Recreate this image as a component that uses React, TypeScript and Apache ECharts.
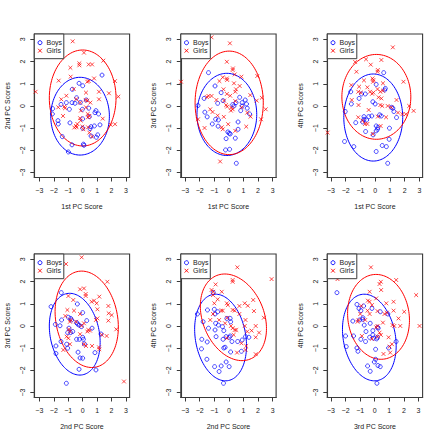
import React, { useEffect, useRef } from 'react';
import * as echarts from 'echarts';

// ---------- data ----------
const boysP1 = [[1.34,1.39],[-0.25,1.02],[0,0.91],[-0.72,0.75],[-0.42,0.37],[0.25,0.27],[-0.74,0.15],[-0.53,0.12],[-0.16,0.16],[-1.13,0.15],[-1.5,0.07],[-2.08,-0.12],[-2.1,-0.36],[-0.92,-0.15],[-0.02,-0.15],[0.42,-0.1],[0.92,-0.21],[0.85,-0.3],[1.1,-0.36],[0,-0.58],[0.46,-0.48],[-1.71,-0.66],[-1.69,-0.81],[-0.88,-0.76],[1.2,-0.85],[0.81,-0.9],[0.58,-0.93],[0.51,-1.02],[0,-1.0],[1.04,-1.3],[-1.41,-1.38],[0.58,-1.35],[0.95,-1.41],[-0.74,-1.75],[0.05,-1.72],[0.09,-1.77],[-0.99,-2.07]];
const girlsP1 = [[-0.69,2.91],[0.09,2.4],[1.43,2.04],[-0.23,1.92],[-0.23,1.83],[0.42,1.87],[0.65,1.87],[-0.85,1.72],[-0.83,1.32],[0.79,1.24],[-1.66,1.14],[0.32,1.09],[0.42,1.12],[2.24,1.12],[-0.62,0.76],[0.23,0.6],[1.13,0.64],[1.82,0.57],[-3.26,0.64],[2.47,0.42],[-1.13,0.46],[-1.48,0.3],[-0.44,0.31],[0.21,0.27],[0.32,0.24],[1.13,0.3],[-0.18,0.15],[0.53,0.15],[-1.69,-0.06],[-1.27,-0.03],[-1.22,-0.1],[0.23,-0.06],[-0.12,-0.21],[0.35,-0.36],[0.46,-0.45],[0.37,-0.51],[-1.36,-0.45],[-0.18,-0.55],[-0.14,-0.66],[1.39,-0.57],[-0.37,-0.81],[-0.46,-0.9],[-0.42,-0.96],[-0.02,-0.93],[0.05,-1.05],[0.37,-0.96],[0.46,-1.2],[1.94,-0.85],[2.24,-0.82],[0.65,-1.38],[-0.58,-0.97]];
const boysP2 = [[-1.4,1.5],[-0.95,0.9],[-0.53,0.6],[-1.7,0.34],[-0.4,0.24],[0.74,0.39],[1.12,0.27],[0.49,0.15],[0.91,0.15],[1.21,0.09],[0.26,0.06],[0.35,0],[-0.77,0.12],[-2.12,0.02],[0.91,0],[1.26,-0.1],[-1.65,-0.28],[1.42,-0.36],[-1.49,-0.49],[-0.91,-0.6],[-0.72,-0.63],[0.63,-0.72],[-1.14,-0.81],[-0.74,-0.91],[-0.07,-1.17],[0.02,-1.23],[0.09,-1.26],[0.63,-1.05],[0.44,-1.45],[-0.19,-1.47],[-0.23,-1.98],[0.05,-1.95],[0.51,-2.58],[0.81,-0.21]];
const girlsP2 = [[-1.19,3.09],[0.07,2.82],[-0.14,1.99],[0.28,1.69],[0.26,1.62],[0.4,1.42],[-0.42,1.29],[-0.14,1.24],[-0.12,1.17],[0.86,1.32],[1.95,1.35],[-0.65,1.12],[-3.28,1.09],[0.35,1.02],[0.74,0.9],[-0.37,0.75],[0.49,0.75],[0.44,0.64],[-0.14,0.54],[1.47,0.49],[0.09,0.46],[-1.4,0.45],[-1.19,0.45],[-1.51,0.4],[2.26,0.37],[-0.86,0.27],[-0.33,0.24],[0.44,0.22],[1.91,0.24],[-0.19,0.04],[-0.12,-0.03],[0.16,-0.07],[0.26,-0.15],[0.14,-0.21],[-1.28,-0.15],[-1.12,-0.27],[2.53,-0.15],[0.88,-0.06],[1.26,-0.3],[-0.77,-0.43],[1.49,-0.48],[-0.35,-0.49],[-2.12,-0.6],[2.21,-0.6],[-0.05,-0.82],[-1.67,-0.99],[1.19,-0.93],[-0.49,-0.96],[-0.42,-1.05],[0.44,-1.12],[-0.6,-2.5]];
const boysP3 = [[0.58,1.5],[0.07,0.97],[0.69,0.79],[0.65,0.72],[-1.66,0.64],[-0.67,0.54],[-0.92,0.54],[-1.09,0.34],[-1.62,0.09],[-0.16,0.19],[0,0.09],[1.11,-0.06],[1.2,-0.1],[1.27,-0.25],[-2.03,-0.25],[-0.44,-0.48],[-0.23,-0.45],[0.3,-0.4],[0.42,-0.45],[-0.76,-0.48],[-0.76,-0.6],[-0.58,-0.63],[-1.32,-0.75],[1.45,-0.52],[-0.85,-0.72],[0.07,-0.9],[0.18,-0.97],[0.16,-1.05],[0.97,-1.0],[-0.65,-1.15],[0.07,-1.12],[-0.14,-1.3],[0.95,-1.5],[-2.08,-1.6],[-1.45,-1.83],[0.48,-1.78],[0.76,-1.83],[0.07,-2.05],[0.85,-2.58]];
const girlsP3 = [[1.2,2.64],[-0.62,2.1],[-1.36,1.98],[0.42,2.07],[-0.3,1.86],[0.18,1.62],[0.16,1.54],[-1.27,1.54],[-0.18,1.24],[-0.12,1.17],[-0.14,1.09],[0.53,1.02],[-0.76,1.15],[1.92,1.09],[-1.62,0.94],[-1.09,0.87],[-0.53,0.84],[0.16,0.76],[0.53,0.69],[0.35,0.64],[-1.15,0.64],[-0.97,0.6],[-0.35,0.64],[-0.21,0.55],[-0.12,0.6],[0.23,0.39],[0.42,0.34],[1.45,0.27],[-1.59,0.27],[0.35,0.04],[0.48,0],[-1.13,0.04],[0.85,0],[1.09,-0.06],[2.31,0],[2.61,-0.22],[-0.44,-0.18],[1.55,-0.3],[2.08,-0.37],[0.74,-0.51],[-1.15,-0.51],[0.18,-0.48],[-0.69,-0.81],[-0.53,-0.81],[0.37,-0.9],[-0.85,-0.66],[-3.23,-1.2],[-0.16,-1.26],[1.85,-0.37]];
const boysP4 = [[-1.48,1.5],[-0.37,0.99],[-2.19,0.87],[0,0.6],[-1.46,0.27],[-0.99,0.39],[-0.83,0.34],[-0.76,0.27],[-0.42,0.15],[-0.35,0.09],[-0.25,0.04],[0.28,0.24],[-1.89,0.07],[-1.57,0.01],[-0.95,-0.1],[0.65,-0.1],[-0.09,-0.03],[-1.04,-0.3],[-0.83,-0.3],[-0.69,-0.25],[0,-0.51],[0.05,-0.6],[-0.42,-0.6],[-0.23,-0.6],[-1.5,-0.7],[-1.85,-0.9],[0.12,-0.81],[-1.04,-1.0],[-1.85,-1.24],[-1.11,-0.82],[-0.32,-1.18],[0.85,-1.2],[1.27,-0.36],[-0.18,-1.44],[0,-1.45],[-0.25,-1.95],[0.92,-1.98],[-1.13,-2.58]];
const girlsP4 = [[-0.07,3.09],[-1.15,2.79],[1.71,1.99],[-0.18,1.65],[0.09,1.69],[0.21,1.44],[0.21,1.35],[1.15,1.32],[-0.99,1.35],[0.62,1.09],[0.79,1.14],[-0.65,1.17],[0.97,1.02],[1.78,0.9],[-1.06,0.72],[-0.6,0.69],[1.02,0.75],[-0.18,0.54],[1.8,0.57],[2.01,0.49],[-1.2,0.45],[1.02,0.34],[-0.83,0.27],[-0.88,0.19],[-0.46,0.19],[0.09,0.12],[-0.07,0.01],[1.78,0.24],[0.92,0.27],[0.39,-0.18],[0.51,-0.21],[0.32,-0.25],[2.33,-0.15],[-0.95,-0.15],[-0.88,-0.25],[-1.11,-0.48],[-0.99,-0.55],[-0.18,-0.37],[1.32,-0.4],[1.66,-0.45],[0.09,-0.82],[0.23,-0.9],[-0.88,-0.82],[0.65,-0.9],[1.13,-0.96],[1.15,-1.05],[-1.34,-1.08],[2.86,-2.5]];
const boysP5 = [[-1.07,1.51],[-2.16,0.54],[-1.47,0.72],[-1.0,0.75],[-0.77,0.64],[-0.95,0.54],[-1.77,0.19],[-1.4,-0.1],[-0.91,0.12],[-0.72,0.04],[-0.95,-0.18],[-0.14,0.34],[0.09,0.34],[0.12,0.19],[-0.44,-0.03],[-0.35,-0.21],[-0.88,-0.48],[-1.86,-0.6],[-0.19,-0.48],[-0.4,-0.6],[0.09,-0.45],[0.02,-0.51],[0.21,-0.7],[-1.49,-0.72],[-0.26,-0.96],[-0.35,-0.99],[0.6,-0.7],[0.91,-0.63],[1.14,-0.48],[1.37,-0.51],[-1.88,-1.03],[0.12,-1.17],[0.86,-1.14],[-1.51,-1.5],[-0.19,-1.62],[-0.98,-1.83],[-0.53,-1.8],[0.02,-1.83],[-0.67,-2.05],[-0.37,-2.58]];
const girlsP5 = [[0.58,2.64],[2.93,2.11],[0.26,2.07],[0.26,1.99],[-0.91,1.87],[-1.19,1.62],[-1.07,1.54],[-0.49,1.54],[-1.09,1.39],[-0.77,1.2],[1.67,1.17],[-0.14,1.02],[-0.07,0.94],[1.09,1.02],[1.3,0.91],[-1.0,1.02],[0.72,0.9],[-0.53,0.69],[-0.42,0.69],[0.26,0.72],[0.4,0.69],[1.72,0.67],[-1.09,0.54],[0.72,0.54],[-0.12,0.37],[2.4,0.37],[-1.28,0.27],[-0.67,0.27],[1.14,0.27],[-0.26,0.12],[0.14,0],[0.26,-0.1],[0.4,-0.18],[0.51,-0.18],[1.09,0],[1.84,0],[2.07,-0.3],[1.56,-0.21],[0.33,-0.4],[-0.14,-0.55],[1.26,-0.25],[1.84,-0.51],[0.86,-0.78],[1.19,-0.9],[1.14,-1.08],[0.56,-1.2],[1.84,-1.27]];
const boysP6 = [[-2.59,1.5],[-1.22,0.97],[-0.76,0.9],[-1.08,0.79],[-0.95,0.69],[-0.19,0.79],[0.38,0.64],[0.9,0.54],[-0.81,0.37],[-0.83,0.3],[-1.5,0.22],[-1.04,0.27],[-0.31,0.12],[-0.72,0.04],[0.19,-0.06],[0.24,-0.1],[-0.6,-0.25],[-0.13,-0.21],[-1.45,-0.45],[-2.0,-0.45],[-0.95,-0.6],[-0.35,-0.51],[-0.13,-0.4],[-0.08,-0.55],[0.13,-0.58],[0.19,-0.51],[-0.63,-0.7],[1.47,-0.7],[-1.95,-0.93],[-1.22,-0.99],[-1.15,-1.14],[0.06,-1.05],[0.95,-0.99],[0.06,-1.5],[-0.03,-1.62],[-0.49,-1.8],[0.22,-1.78],[0.38,-1.83],[-0.31,-2.04],[0.15,-2.58]];
const girlsP6 = [[-0.26,2.64],[-2.55,2.11],[1.47,2.07],[0.42,1.99],[0.33,1.89],[0.44,1.62],[-0.35,1.54],[2.84,1.39],[0.1,1.24],[-0.47,1.14],[-0.35,1.09],[0.79,1.02],[1.29,1.09],[-0.19,0.94],[-0.92,0.9],[-0.49,0.69],[0.19,0.67],[0.83,0.6],[0.67,0.54],[1.29,0.69],[2.02,0.64],[-0.99,0.54],[-0.35,0.54],[1.63,0.34],[-1.11,0.27],[-1.18,0.19],[-0.65,0.27],[0.56,0.15],[1.22,0.04],[1.34,0],[1.75,0],[3.07,0],[0.19,0],[0.1,-0.06],[0.33,-0.3],[0.42,-0.4],[-0.88,-0.45],[0.95,-0.51],[-0.19,-0.58],[0.19,-0.48],[1.18,-0.82],[1.02,-0.93],[0.6,-1.26],[1.06,-1.2]];

// ellipse parameters per panel: [centreX, centreY, halfExtentX, halfExtentY, correlation]
const boysEllipses = [
  [-0.18, -0.46, 2.03, 1.75, 0],
  [-0.14, -0.38, 2.05, 1.85, 0],
  [-0.13, -0.52, 2.0, 1.96, 0],
  [-0.55, -0.37, 1.76, 1.84, -0.2],
  [-0.57, -0.52, 1.78, 1.95, -0.19],
  [-0.37, -0.52, 1.84, 1.95, -0.19],
];
const girlsEllipses = [
  [0.0, 0.36, 2.31, 2.16, 0],
  [0.02, 0.14, 2.34, 2.33, 0],
  [0.08, 0.41, 2.34, 1.91, 0],
  [0.28, 0.3, 2.19, 2.17, -0.16],
  [0.31, 0.39, 2.27, 1.95, -0.26],
  [0.26, 0.41, 2.12, 1.91, -0.08],
];

const xTitles = ['1st PC Score', '1st PC Score', '1st PC Score', '2nd PC Score', '2nd PC Score', '3rd PC Score'];
const yTitles = ['2nd PC Scores', '3rd PC Scores', '4th PC Scores', '3rd PC Scores', '4th PC Scores', '4th PC Scores'];
const tickValues = [-3, -2, -1, 0, 1, 2, 3];
const legendLabels = ['Boys', 'Girls'];
const xRanges = [[-3.35, 3.25], [-3.3, 3.24], [-3.25, 3.22], [-3.35, 3.25], [-3.3, 3.24], [-3.25, 3.28]];
const yRange = [-3.22, 3.24];

const boysData = [boysP1, boysP2, boysP3, boysP4, boysP5, boysP6];
const girlsData = [girlsP1, girlsP2, girlsP3, girlsP4, girlsP5, girlsP6];

// ---------- layout ----------
const BLUE = '#0000FF';
const RED = '#FF0000';
const INK = '#1a1a1a';
const FRAME = '#3a3a3a';
const FONT = '"Liberation Sans", Arial, Helvetica, sans-serif';
const colLeft = [34.3, 180.8, 327.3];
const rowTop = [34, 254];
const boxW = 95.3;
const boxH = 143.5;
const X_PATH = 'path://M0,0L10,10M10,0L0,10';

const fmt = (v: number) => (v < 0 ? '\u2212' + Math.abs(v) : String(v));

function ellipseRender(params: any, api: any) {
  const cx = api.value(0), cy = api.value(1), rx = api.value(2), ry = api.value(3), rho = api.value(4);
  const s = Math.sqrt(1 - rho * rho);
  const pts: number[][] = [];
  const n = 120;
  for (let k = 0; k <= n; k++) {
    const t = (2 * Math.PI * k) / n;
    pts.push(api.coord([cx + rx * Math.cos(t), cy + ry * (rho * Math.cos(t) + s * Math.sin(t))]));
  }
  return {
    type: 'polyline',
    shape: { points: pts },
    style: { fill: 'none', stroke: api.visual('color'), lineWidth: 1 },
    silent: true,
  };
}

export default function App() {
  const ref = useRef<HTMLDivElement>(null);
  useEffect(() => {
    document.body.style.margin = '0';
    if (!ref.current) return;
    const chart = echarts.init(ref.current, undefined, { renderer: 'svg' });
    const grids: any[] = [];
    const xAxes: any[] = [];
    const yAxes: any[] = [];
    const series: any[] = [];
    const graphics: any[] = [];
    for (let i = 0; i < 6; i++) {
      const L = colLeft[i % 3];
      const T = rowTop[Math.floor(i / 3)];
      grids.push({ left: L, top: T, width: boxW, height: boxH, show: true, borderColor: FRAME, borderWidth: 1.1, backgroundColor: 'transparent' });
      xAxes.push({
        gridIndex: i, type: 'value', min: xRanges[i][0], max: xRanges[i][1], position: 'bottom',
        name: xTitles[i], nameLocation: 'middle', nameGap: 25.5,
        nameTextStyle: { fontSize: 7, color: INK, fontFamily: FONT },
        axisLine: { show: true, onZero: false, lineStyle: { color: FRAME, width: 1.1 } },
        axisTick: { show: true, inside: false, length: 4, customValues: tickValues, lineStyle: { color: FRAME, width: 1 } },
        axisLabel: { customValues: tickValues, fontSize: 7, margin: 9, color: INK, fontFamily: FONT, formatter: fmt },
        splitLine: { show: false },
        minorTick: { show: false },
        splitArea: { show: false },
      });
      yAxes.push({
        gridIndex: i, type: 'value', min: yRange[0], max: yRange[1], position: 'left',
        name: yTitles[i], nameLocation: 'middle', nameGap: 23.5,
        nameTextStyle: { fontSize: 7, color: INK, fontFamily: FONT },
        axisLine: { show: true, onZero: false, lineStyle: { color: FRAME, width: 1.1 } },
        axisTick: { show: true, inside: false, length: 4, customValues: tickValues, lineStyle: { color: FRAME, width: 1 } },
        axisLabel: { customValues: tickValues, fontSize: 7, margin: 8.5, rotate: 90, color: INK, fontFamily: FONT, formatter: fmt },
        splitLine: { show: false },
        minorTick: { show: false },
        splitArea: { show: false },
      });
      series.push({
        type: 'scatter', name: legendLabels[0], xAxisIndex: i, yAxisIndex: i, data: boysData[i],
        symbol: 'circle', symbolSize: 4,
        itemStyle: { color: 'transparent', borderColor: BLUE, borderWidth: 0.9 },
        silent: true,
      });
      series.push({
        type: 'scatter', name: legendLabels[1], xAxisIndex: i, yAxisIndex: i, data: girlsData[i],
        symbol: X_PATH, symbolSize: 3.8,
        itemStyle: { color: 'transparent', borderColor: RED, borderWidth: 0.9 },
        silent: true,
      });
      series.push({
        type: 'custom', xAxisIndex: i, yAxisIndex: i, data: [boysEllipses[i]],
        renderItem: ellipseRender, itemStyle: { color: BLUE }, encode: { x: 0, y: 1 }, silent: true,
      });
      series.push({
        type: 'custom', xAxisIndex: i, yAxisIndex: i, data: [girlsEllipses[i]],
        renderItem: ellipseRender, itemStyle: { color: RED }, encode: { x: 0, y: 1 }, silent: true,
      });
      // legend box (R style)
      graphics.push({ type: 'rect', shape: { x: L, y: T, width: 29.5, height: 24.7 }, style: { fill: '#fff', stroke: FRAME, lineWidth: 1 }, z: 10 });
      graphics.push({ type: 'circle', shape: { cx: L + 5.7, cy: T + 8.7, r: 2 }, style: { fill: 'none', stroke: BLUE, lineWidth: 0.9 }, z: 11 });
      graphics.push({ type: 'line', shape: { x1: L + 3.8, y1: T + 14.8, x2: L + 7.6, y2: T + 18.6 }, style: { stroke: RED, lineWidth: 0.9 }, z: 11 });
      graphics.push({ type: 'line', shape: { x1: L + 7.6, y1: T + 14.8, x2: L + 3.8, y2: T + 18.6 }, style: { stroke: RED, lineWidth: 0.9 }, z: 11 });
      graphics.push({ type: 'text', x: L + 12.2, y: T + 8.7, style: { text: legendLabels[0], fontSize: 7, fill: INK, fontFamily: FONT, verticalAlign: 'middle', align: 'left' }, z: 11 });
      graphics.push({ type: 'text', x: L + 12.2, y: T + 16.7, style: { text: legendLabels[1], fontSize: 7, fill: INK, fontFamily: FONT, verticalAlign: 'middle', align: 'left' }, z: 11 });
    }
    chart.setOption({
      animation: false,
      backgroundColor: '#ffffff',
      grid: grids,
      xAxis: xAxes,
      yAxis: yAxes,
      series,
      graphic: graphics,
    });
    return () => chart.dispose();
  }, []);
  return <div ref={ref} style={{ position: 'fixed', left: 0, top: 0, width: 440, height: 440 }} />;
}
